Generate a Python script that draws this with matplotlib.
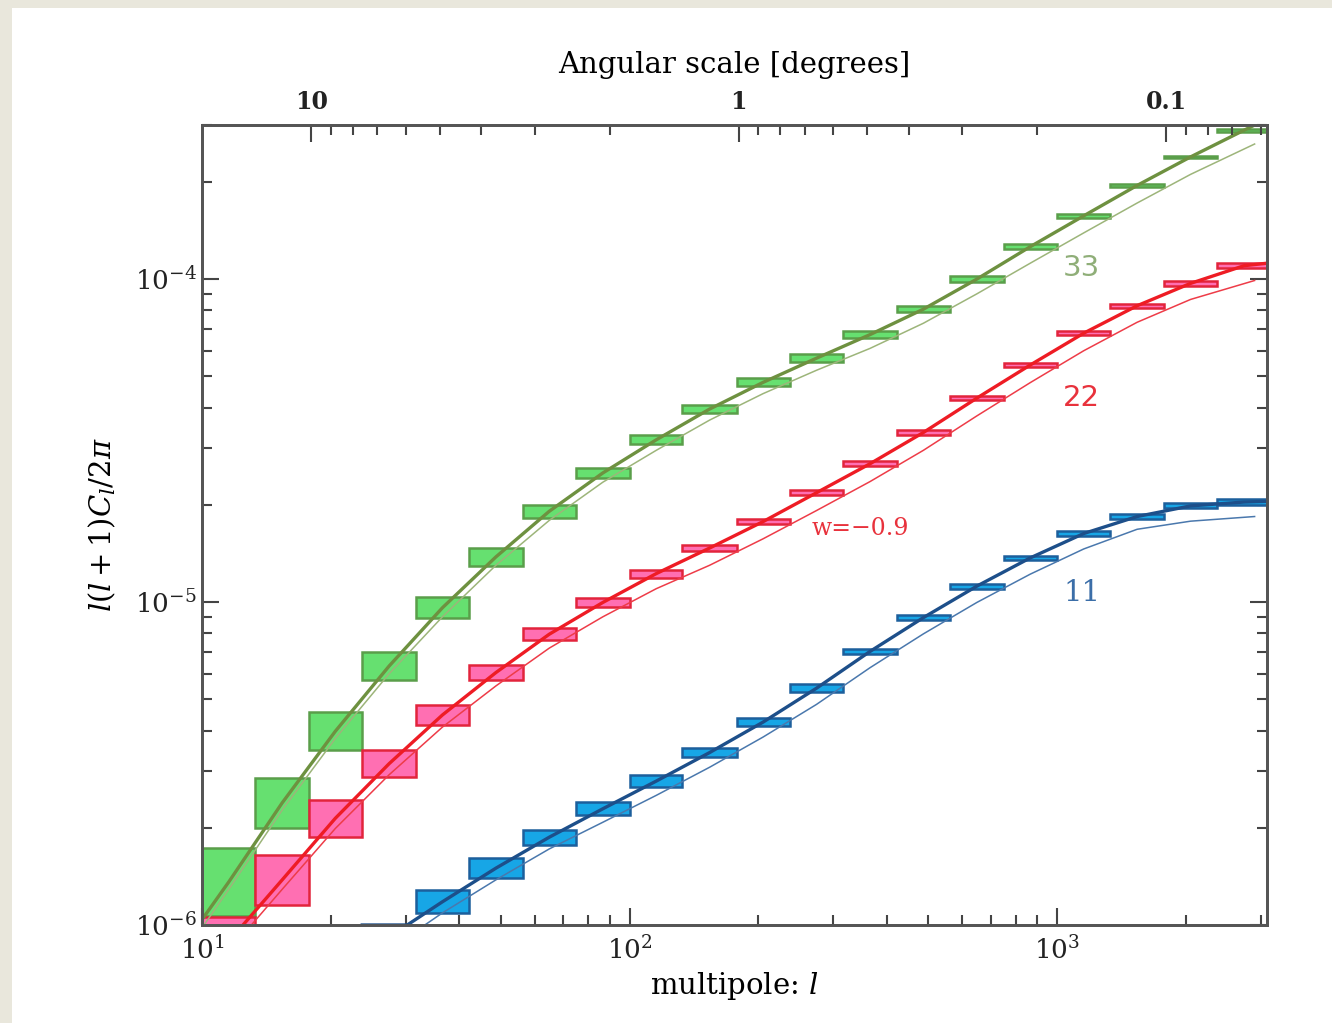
import matplotlib
matplotlib.use('Agg')
import matplotlib.pyplot as plt
import matplotlib.patches as patches
from matplotlib.ticker import FixedLocator, LogLocator, NullFormatter

plt.rcParams['font.family'] = 'DejaVu Serif'
plt.rcParams['mathtext.fontset'] = 'dejavuserif'

# multipole bins, 1/8 decade wide
bin_edges = [10, 13.3, 17.8, 23.7, 31.6, 42.2, 56.2, 75.0, 100, 133, 178, 237,
             316, 422, 562, 750, 1000, 1334, 1778, 2371, 3162]

# error boxes (lower / upper edge of each bin)
green_lo = [1.07e-6, 2.0e-6, 3.48e-6, 5.74e-6, 8.9e-6, 1.29e-5, 1.82e-5, 2.42e-5,
            3.08e-5, 3.85e-5, 4.66e-5, 5.53e-5, 6.57e-5, 7.9e-5, 9.8e-5, 1.24e-4,
            1.55e-4, 1.93e-4, 2.37e-4, 2.86e-4]
green_hi = [1.73e-6, 2.85e-6, 4.56e-6, 7.0e-6, 1.035e-5, 1.47e-5, 2.0e-5, 2.6e-5,
            3.29e-5, 4.07e-5, 4.93e-5, 5.86e-5, 6.9e-5, 8.25e-5, 1.02e-4, 1.28e-4,
            1.59e-4, 1.97e-4, 2.41e-4, 2.92e-4]

red_lo = [0.7e-6, 1.15e-6, 1.87e-6, 2.87e-6, 4.16e-6, 5.74e-6, 7.62e-6, 9.66e-6,
          1.19e-5, 1.44e-5, 1.74e-5, 2.14e-5, 2.64e-5, 3.3e-5, 4.21e-5, 5.34e-5,
          6.7e-5, 8.15e-5, 9.55e-5, 1.08e-4]
red_hi = [1.06e-6, 1.65e-6, 2.44e-6, 3.48e-6, 4.8e-6, 6.38e-6, 8.3e-6, 1.03e-5,
          1.26e-5, 1.5e-5, 1.81e-5, 2.22e-5, 2.73e-5, 3.41e-5, 4.35e-5, 5.5e-5,
          6.9e-5, 8.4e-5, 9.85e-5, 1.12e-4]

blue_first_bin = 4
blue_lo = [1.09e-6, 1.40e-6, 1.77e-6, 2.19e-6, 2.67e-6, 3.31e-6, 4.13e-6, 5.26e-6,
           6.9e-6, 8.8e-6, 1.10e-5, 1.35e-5, 1.60e-5, 1.81e-5, 1.95e-5, 2.0e-5]
blue_hi = [1.28e-6, 1.61e-6, 1.97e-6, 2.40e-6, 2.91e-6, 3.53e-6, 4.37e-6, 5.57e-6,
           7.15e-6, 9.1e-6, 1.14e-5, 1.39e-5, 1.66e-5, 1.87e-5, 2.02e-5, 2.08e-5]

# model curves
curve_l = [10, 11.55, 15.4, 20.5, 27.4, 36.5, 48.7, 64.9, 86.6, 115.5, 154, 205.4,
           273.8, 365.2, 487, 649.4, 866, 1155, 1540, 2054, 2738, 3100]
green_thick = [1.04e-6, 1.36e-6, 2.39e-6, 3.98e-6, 6.34e-6, 9.6e-6, 1.38e-5, 1.91e-5,
               2.51e-5, 3.18e-5, 3.96e-5, 4.79e-5, 5.69e-5, 6.73e-5, 8.07e-5, 1.0e-4,
               1.26e-4, 1.57e-4, 1.95e-4, 2.39e-4, 2.89e-4, 3.13e-4]
red_thick = [0.71e-6, 0.89e-6, 1.38e-6, 2.14e-6, 3.16e-6, 4.47e-6, 6.05e-6, 7.95e-6,
             9.97e-6, 1.225e-5, 1.47e-5, 1.775e-5, 2.18e-5, 2.68e-5, 3.35e-5, 4.28e-5,
             5.42e-5, 6.8e-5, 8.27e-5, 9.7e-5, 1.10e-4, 1.12e-4]

thin_l = [10, 11.55, 15.4, 20.5, 27.4, 36.5, 48.7, 64.9, 86.6, 115.5, 154, 205.4,
          273.8, 365.2, 487, 649.4, 866, 1155, 1540, 2054, 2900]
green_thin = [0.98e-6, 1.29e-6, 2.27e-6, 3.78e-6, 6.0e-6, 9.0e-6, 1.30e-5, 1.79e-5,
              2.35e-5, 2.95e-5, 3.66e-5, 4.42e-5, 5.22e-5, 6.1e-5, 7.3e-5, 9.0e-5,
              1.12e-4, 1.39e-4, 1.72e-4, 2.11e-4, 2.62e-4]
red_thin = [0.66e-6, 0.83e-6, 1.29e-6, 1.99e-6, 2.92e-6, 4.1e-6, 5.5e-6, 7.2e-6,
            9.0e-6, 1.1e-5, 1.3e-5, 1.57e-5, 1.92e-5, 2.36e-5, 2.95e-5, 3.77e-5,
            4.78e-5, 6.0e-5, 7.35e-5, 8.65e-5, 9.9e-5]

blue_thick_l = [23.7, 30.2, 36.5, 48.7, 64.9, 86.6, 115.5, 154, 205.4, 273.8, 365.2,
                487, 649.4, 866, 1155, 1540, 2054, 2738, 3100]
blue_thick = [1.0e-6, 1.0e-6, 1.18e-6, 1.50e-6, 1.87e-6, 2.29e-6, 2.79e-6, 3.42e-6,
              4.25e-6, 5.41e-6, 7.03e-6, 8.95e-6, 1.12e-5, 1.37e-5, 1.63e-5, 1.84e-5,
              1.985e-5, 2.04e-5, 2.05e-5]
blue_thin_l = [33.2, 36.5, 48.7, 64.9, 86.6, 115.5, 154, 205.4, 273.8, 365.2, 487,
               649.4, 866, 1155, 1540, 2054, 2900]
blue_thin = [1.0e-6, 1.09e-6, 1.38e-6, 1.72e-6, 2.08e-6, 2.52e-6, 3.08e-6, 3.82e-6,
             4.82e-6, 6.26e-6, 7.97e-6, 9.97e-6, 1.22e-5, 1.46e-5, 1.68e-5, 1.78e-5,
             1.84e-5]

top_ticks = [10, 1, 0.1]
top_labels = ['10', '1', '0.1']


def draw_boxes(ax, first, lo, hi, face, edge):
    left = bin_edges[first:first + len(lo)]
    right = bin_edges[first + 1:first + 1 + len(lo)]
    widths = [r - l for l, r in zip(left, right)]
    heights = [h - l for l, h in zip(lo, hi)]
    ax.bar(left, heights, width=widths, bottom=lo, align='edge',
           facecolor=face, edgecolor=edge, linewidth=1.8, zorder=2)


fig = plt.figure(figsize=(13.32, 10.23), dpi=100)
fig.patch.set_facecolor('white')
beige = '#e9e7dc'
fig.patches.append(patches.Rectangle((0, 1 - 8 / 1023), 1, 8 / 1023, transform=fig.transFigure,
                                     facecolor=beige, edgecolor='none', zorder=-5))
fig.patches.append(patches.Rectangle((0, 0), 12 / 1332, 1, transform=fig.transFigure,
                                     facecolor=beige, edgecolor='none', zorder=-5))

ax = fig.add_axes([0.1517, 0.0958, 0.7995, 0.782])
ax.set_xscale('log')
ax.set_yscale('log')

draw_boxes(ax, 0, green_lo, green_hi, '#66e070', '#5a9e4a')
draw_boxes(ax, 0, red_lo, red_hi, '#ff6fb2', '#e2243c')
draw_boxes(ax, blue_first_bin, blue_lo, blue_hi, '#17a6e6', '#1c5f9c')

ax.plot(thin_l, green_thin, color='#9db57a', lw=1.1, zorder=3)
ax.plot(curve_l, green_thick, color='#6e9140', lw=2.4, zorder=4)
ax.plot(thin_l, red_thin, color='#ee3c48', lw=1.1, zorder=3)
ax.plot(curve_l, red_thick, color='#ee1c24', lw=2.4, zorder=4)
ax.plot(blue_thin_l, blue_thin, color='#4a78ad', lw=1.1, zorder=3)
ax.plot(blue_thick_l, blue_thick, color='#1d4f8a', lw=2.4, zorder=4)

ax.set_xlim(10, 3100)
ax.set_ylim(1e-6, 3.0e-4)

ax.text(1143, 1.08e-4, '33', color='#8fae78', fontsize=21, family='DejaVu Sans',
        ha='center', va='center')
ax.text(1143, 4.28e-5, '22', color='#e8323c', fontsize=21, family='DejaVu Sans',
        ha='center', va='center')
ax.text(1143, 1.07e-5, '11', color='#3b6ea8', fontsize=21, ha='center', va='center')
ax.text(346, 1.69e-5, 'w=\u22120.9', color='#e8323c', fontsize=17, ha='center', va='center')

for s in ax.spines.values():
    s.set_linewidth(2.0)
    s.set_color('#555555')
ax.tick_params(which='both', direction='in', right=True, top=False, colors='#444444',
               labelcolor='#222222', labelsize=19, width=1.5)
ax.tick_params(which='major', length=12)
ax.tick_params(which='minor', length=7)
ax.tick_params(axis='x', pad=8)

ax.set_xlabel('multipole: $l$', fontsize=21, labelpad=4)
ax.set_ylabel('$l(l+1)C_l/2\\pi$', fontsize=21, labelpad=12)

# angular scale on top
ax2 = ax.twiny()
ax2.set_xscale('log')
ax2.set_xlim(180 / 10, 180 / 3100)
ax2.xaxis.set_major_locator(FixedLocator(top_ticks))
ax2.set_xticklabels(top_labels)
ax2.xaxis.set_minor_locator(LogLocator(base=10, subs=range(2, 10)))
ax2.xaxis.set_minor_formatter(NullFormatter())
ax2.tick_params(which='both', direction='in', colors='#444444', labelcolor='#222222',
                labelsize=17, width=1.5, pad=8)
ax2.tick_params(which='major', length=12)
ax2.tick_params(which='minor', length=7)
for lab in ax2.get_xticklabels():
    lab.set_fontweight('bold')
ax2.set_xlabel('Angular scale [degrees]', fontsize=21, labelpad=12)
for s in ax2.spines.values():
    s.set_linewidth(2.0)
    s.set_color('#555555')

fig.savefig('out.png', dpi=100)
